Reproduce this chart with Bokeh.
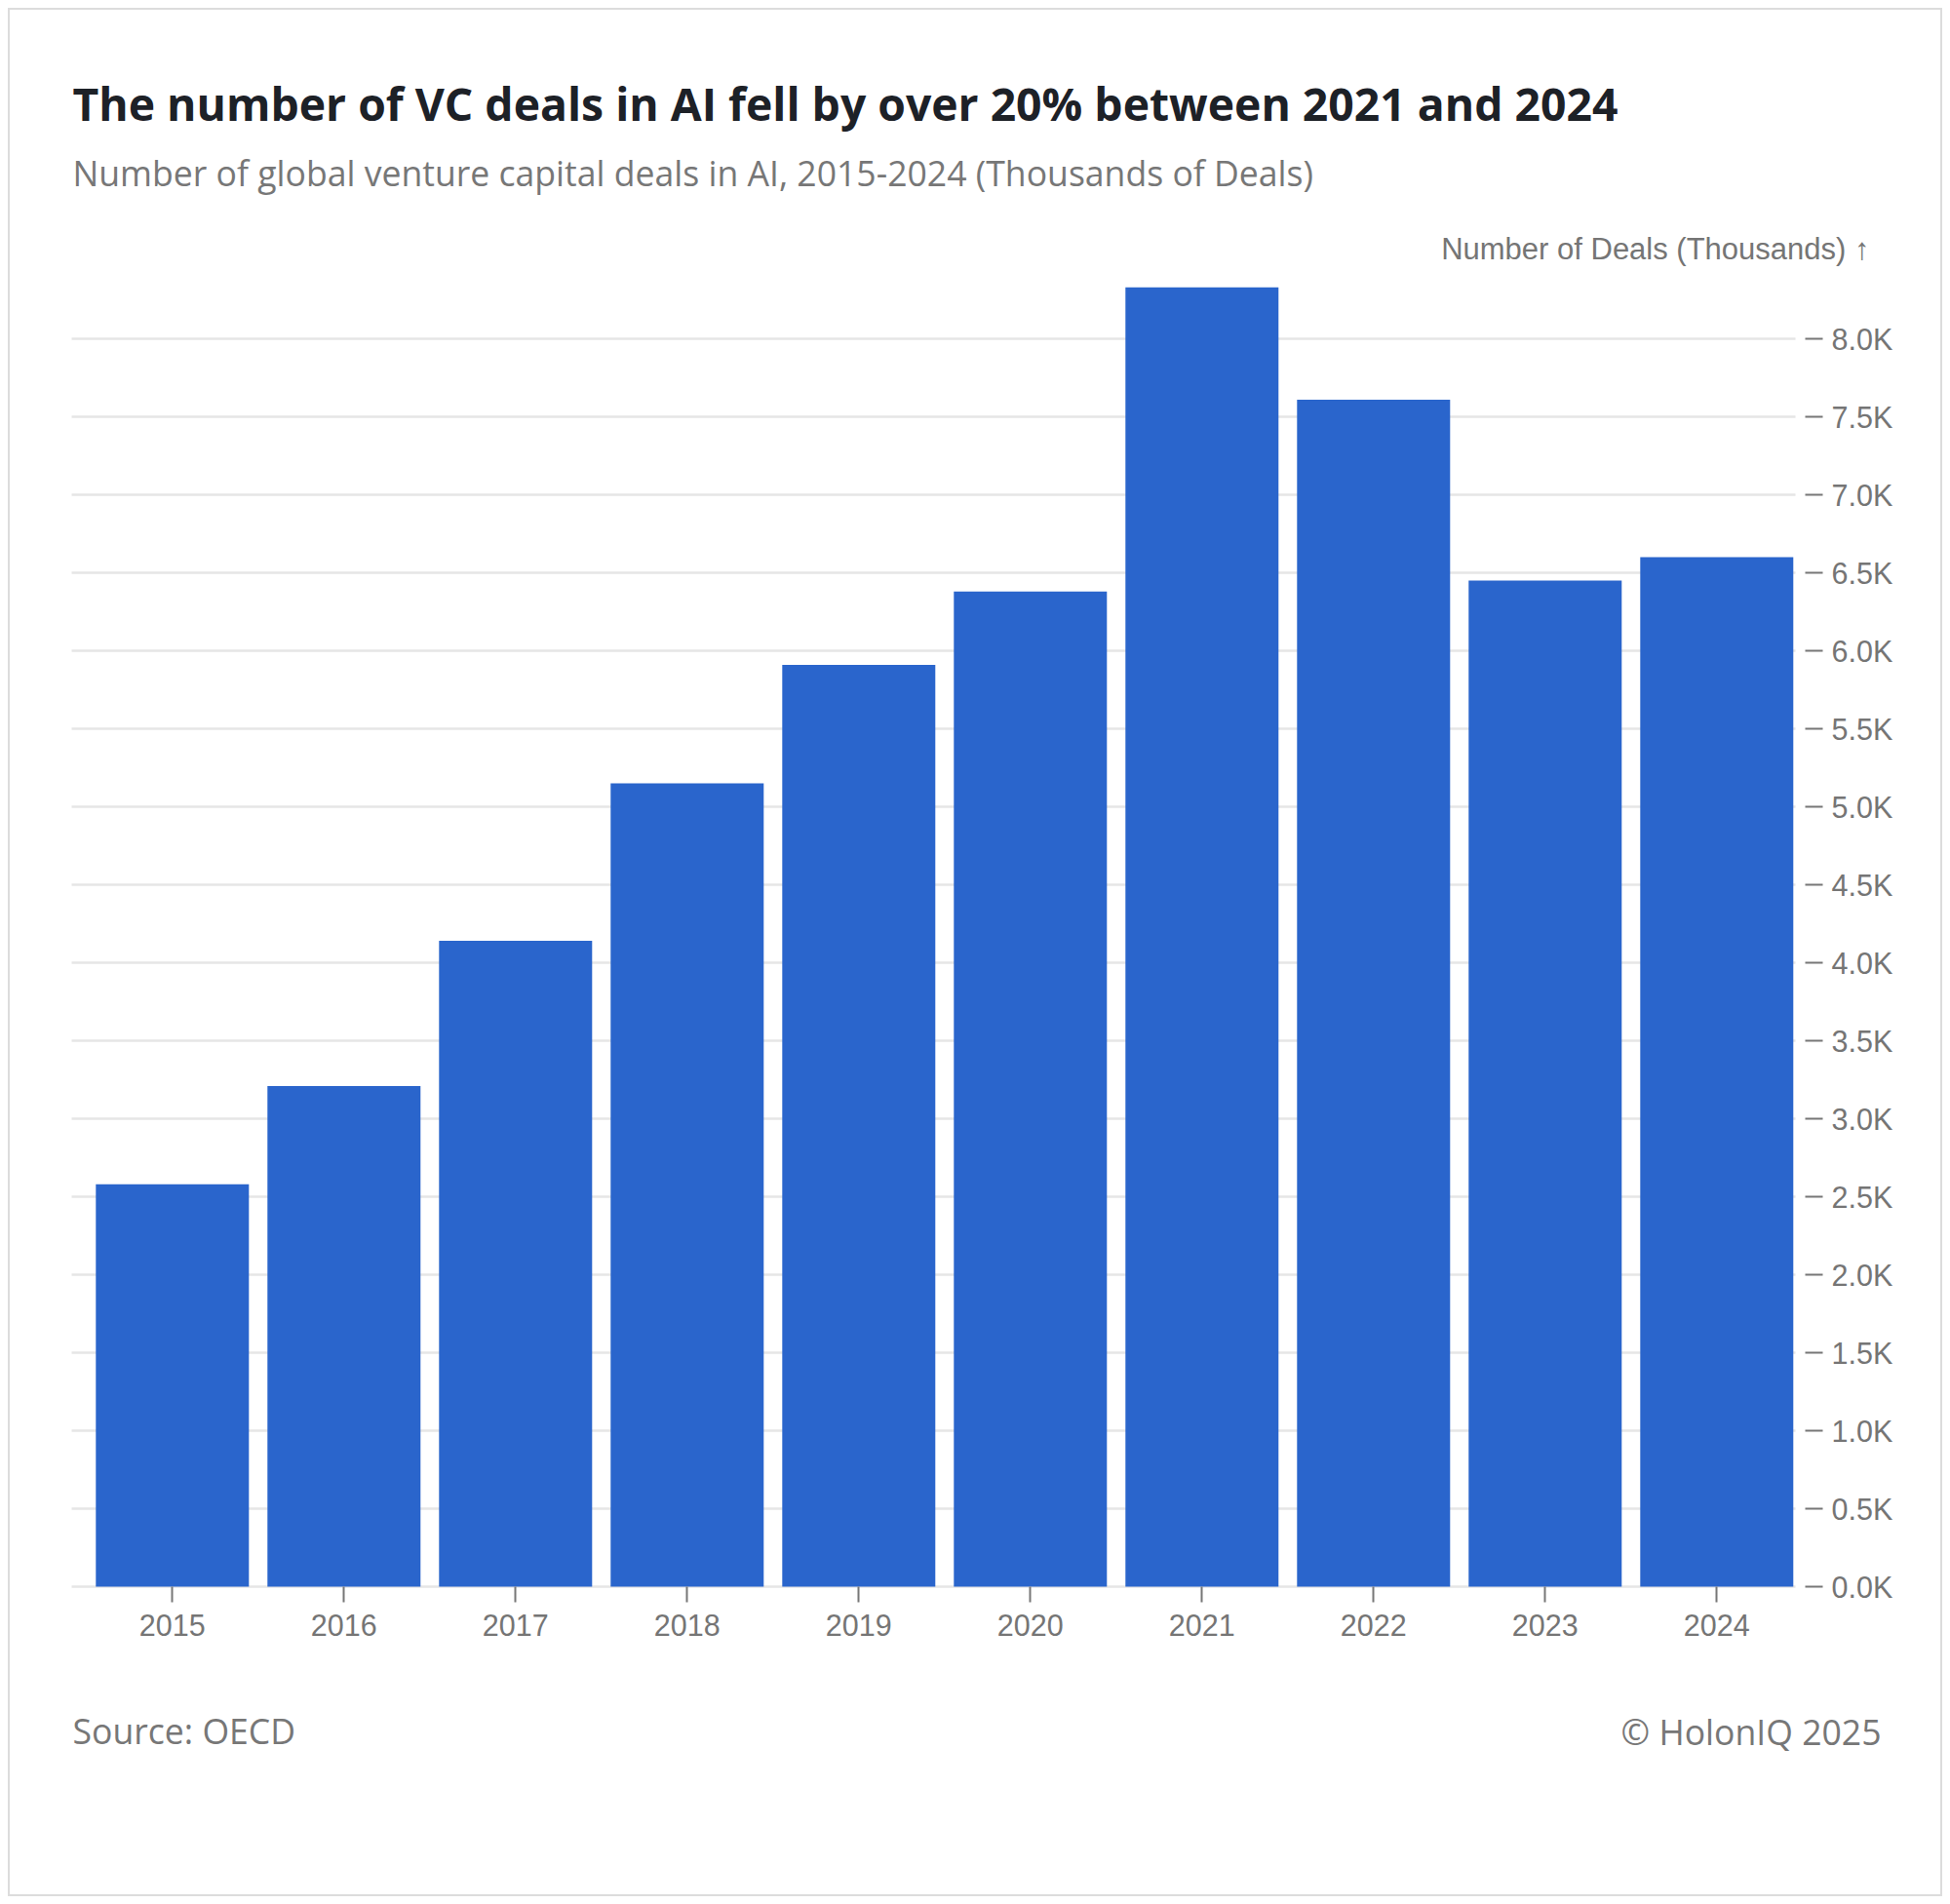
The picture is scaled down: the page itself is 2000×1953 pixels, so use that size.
from bokeh.plotting import figure
from bokeh.models import Range1d, FixedTicker, PrintfTickFormatter, Label
from bokeh.embed import file_html
from bokeh.resources import INLINE

# ---- data ----
years = ["2015", "2016", "2017", "2018", "2019", "2020", "2021", "2022", "2023", "2024"]
deals_thousands = [2.58, 3.21, 4.14, 5.15, 5.91, 6.38, 8.33, 7.61, 6.45, 6.60]
y_tick_values = [0.0, 0.5, 1.0, 1.5, 2.0, 2.5, 3.0, 3.5, 4.0, 4.5, 5.0, 5.5, 6.0, 6.5, 7.0, 7.5, 8.0]

title_text = "The number of VC deals in AI fell by over 20% between 2021 and 2024"
subtitle_text = "Number of global venture capital deals in AI, 2015-2024 (Thousands of Deals)"
y_title_text = "Number of Deals (Thousands) \u2191"
source_text = "Source: OECD"
credit_text = "\u00a9 HolonIQ 2025"

# ---- styles ----
BAR = "#2a65cc"
GRID = "#e6e6e6"
AXIS_TXT = "#757575"
TICK_C = "#777777"
TITLE_C = "#1d2127"
SUB_C = "#777777"
SANS = "Open Sans"
ARIAL = "Liberation Sans"

W, H = 2000, 1953
xs = list(range(len(years)))

# plot area (the frame covers the whole canvas; axes are pinned inside it)
X_LO, X_HI = -0.587, 9.459          # visible data extent of the bar area
p = figure(
    width=W, height=H, output_backend="svg", toolbar_location=None, tools="",
    x_range=Range1d(-1.0017, 10.362), y_range=Range1d(-2.0375, 10.169),
    y_axis_location="right",
    min_border_left=0, min_border_right=0, min_border_top=0, min_border_bottom=0,
)
p.background_fill_color = None
p.border_fill_color = None
p.outline_line_color = None
p.styles = {
    "background-color": "#ffffff",
    "box-shadow": "inset 0 0 0 8px #ffffff, inset 0 0 0 10px #dcdcdc",
}

p.vbar(x=xs, top=deals_thousands, bottom=0, width=0.892, fill_color=BAR, line_color=None)

# grid
p.xgrid.visible = False
p.ygrid.grid_line_color = GRID
p.ygrid.grid_line_width = 2.5
p.ygrid.cross_bounds = (X_LO, X_HI)

# y axis (right, pinned at the right edge of the bar area)
ya = p.yaxis[0]
ya.fixed_location = X_HI
ya.ticker = FixedTicker(ticks=y_tick_values)
ya.formatter = PrintfTickFormatter(format="%.1fK")
ya.axis_line_color = None
ya.major_tick_in = -10
ya.major_tick_out = 28
ya.major_tick_line_color = TICK_C
ya.major_tick_line_width = 2
ya.minor_tick_line_color = None
ya.major_label_standoff = 9
ya.major_label_text_font = ARIAL
ya.major_label_text_font_size = "30.5px"
ya.major_label_text_color = AXIS_TXT

# x axis (pinned at zero)
xa = p.xaxis[0]
xa.fixed_location = 0
xa.ticker = FixedTicker(ticks=xs)
xa.major_label_overrides = {i: y for i, y in zip(xs, years)}
xa.axis_line_color = None
xa.major_tick_in = 0
xa.major_tick_out = 16
xa.major_tick_line_color = TICK_C
xa.major_tick_line_width = 2
xa.minor_tick_line_color = None
xa.major_label_standoff = 12
xa.major_label_text_font = ARIAL
xa.major_label_text_font_size = "30.5px"
xa.major_label_text_color = AXIS_TXT


def add_label(text, x, y, size, color, font, style="normal", align="left"):
    p.add_layout(Label(x=x, y=y, x_units="screen", y_units="screen", text=text,
                       text_font=font, text_font_size=size, text_color=color,
                       text_font_style=style, text_align=align, text_baseline="alphabetic"))


add_label(title_text, 74, 1847, "46.3px", TITLE_C, SANS, style="bold")
add_label(subtitle_text, 74, 1777, "35.6px", SUB_C, SANS)
add_label(y_title_text, 1917, 1698, "31px", AXIS_TXT, ARIAL, align="right")
add_label(source_text, 74, 179, "35.6px", SUB_C, SANS)
add_label(credit_text, 1929, 178, "35.6px", SUB_C, SANS, align="right")

open("out.html", "w").write(file_html(p, INLINE))
